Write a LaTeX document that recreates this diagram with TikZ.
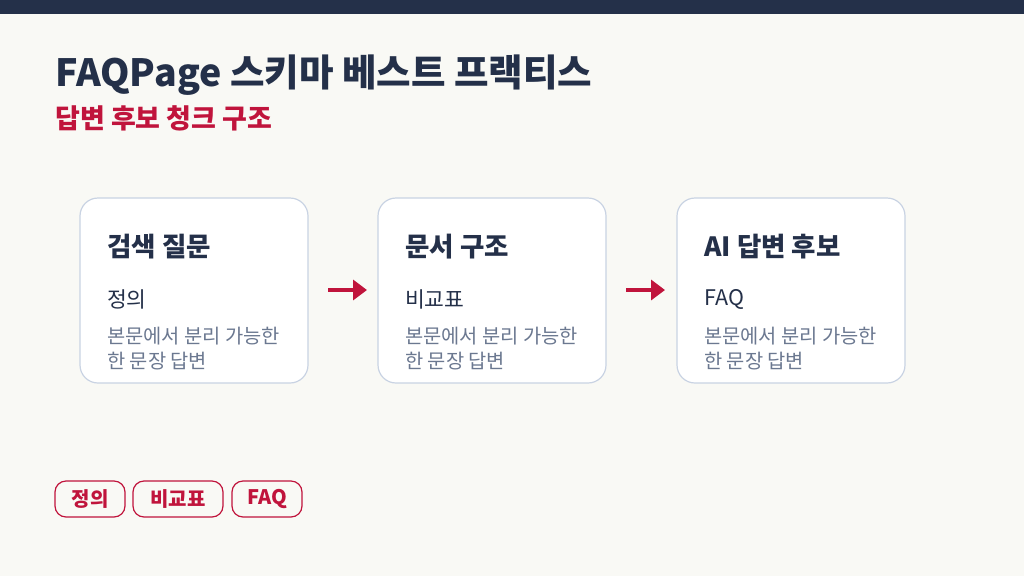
\documentclass[tikz,border=0pt]{standalone}
\usepackage{fontspec}
\setmainfont{Noto Sans CJK KR}
\usetikzlibrary{arrows.meta}
\definecolor{bg}{HTML}{F9F9F5}
\definecolor{navy}{HTML}{243049}
\definecolor{crim}{HTML}{C0143C}
\definecolor{bord}{HTML}{C9D3E3}
\definecolor{gray1}{HTML}{6B7890}
\begin{document}
\begin{tikzpicture}[x=1pt,y=-1pt,
  card/.style={draw=bord,line width=1.2pt,fill=white,rounded corners=18pt},
  head/.style={anchor=west,font=\fontsize{26.5}{30}\selectfont\bfseries,text=navy},
  sub/.style={anchor=west,font=\fontsize{21.5}{26}\selectfont,text=navy},
  small/.style={anchor=north west,font=\fontsize{19.8}{24.5}\selectfont,text=gray1,align=left,inner sep=0pt},
  pill/.style={draw=crim,line width=1.2pt,rounded corners=11pt,text=crim,font=\fontsize{20}{22}\selectfont\bfseries,minimum height=36pt,inner xsep=0pt},
  arr/.style={draw=crim,line width=4pt,-{Triangle[length=14pt,width=20pt]}}]
\useasboundingbox (0,0) rectangle (1024,576);
\fill[bg] (0,0) rectangle (1024,576);
\fill[navy] (0,0) rectangle (1024,14);
\node[anchor=west,font=\fontsize{37.5}{40}\selectfont\bfseries,text=navy,inner sep=0pt] (title) at (55,75) {FAQPage 스키마 베스트 프랙티스};
\node[anchor=west,font=\fontsize{27}{30}\selectfont\bfseries,text=crim,inner sep=0pt] (subt) at (55,118) {답변 후보 청크 구조};
\foreach \i/\x/\h/\s in {1/80/검색 질문/정의, 2/378/문서 구조/비교표, 3/677/AI 답변 후보/FAQ}{
  \draw[card] (\x,198) rectangle (\x+228,383);
  \node[minimum width=228pt,minimum height=185pt,anchor=north west] (c\i) at (\x,198) {};
  \node[head,inner sep=0pt] (h\i) at (\x+27,247) {\h};
  \node[sub,inner sep=0pt] (s\i) at (\x+27,299) {\s};
  \node[small] (t\i) at (\x+27,327) {본문에서 분리 가능한\\한 문장 답변};
}
\draw[arr] (328,290) -- (367,290);
\draw[arr] (626,290) -- (665,290);
\node[pill,minimum width=70pt] (p1) at (90,499) {정의};
\node[pill,minimum width=90pt] (p2) at (178,499) {비교표};
\node[pill,minimum width=70pt] (p3) at (267,499) {FAQ};
\end{tikzpicture}
\end{document}
